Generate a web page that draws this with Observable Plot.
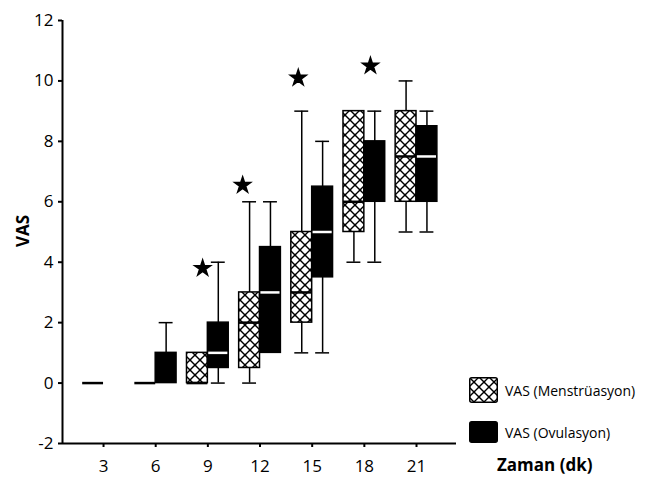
<!DOCTYPE html>
<html><head><meta charset="utf-8">
<script src="https://cdn.jsdelivr.net/npm/d3@7"></script>
<script src="https://cdn.jsdelivr.net/npm/@observablehq/plot@0.6"></script>
<style>
body{margin:0;background:#fff;font-family:"Open Sans",sans-serif;}
#wrap{position:relative;width:646px;height:477px;}
.leg{position:absolute;display:flex;align-items:center;font-size:14px;color:#000;white-space:nowrap;}
.leg svg{margin-right:7px;}
#xlab{position:absolute;left:497px;top:453px;font-size:17px;font-weight:bold;white-space:nowrap;}
</style></head><body><div id="wrap"></div>
<script>
const times = [3, 6, 9, 12, 15, 18, 21];
const yTicks = [-2, 0, 2, 4, 6, 8, 10, 12];
const seriesNames = ["VAS (Menstrüasyon)", "VAS (Ovulasyon)"];

// Menstrüasyon (hatched)
const mTimes = [3, 6, 9, 12, 15, 18, 21];
const mLo  = [0, 0, 0, 0,   1, 4, 5];
const mQ1  = [0, 0, 0, 0.5, 2, 5, 6];
const mMed = [0, 0, 0, 2,   3, 6, 7.5];
const mQ3  = [0, 0, 1, 3,   5, 9, 9];
const mHi  = [0, 0, 1, 6,   9, 9, 10];

// Ovulasyon (black)
const oTimes = [6, 9, 12, 15, 18, 21];
const oLo  = [0, 0,   1,   1,   4, 5];
const oQ1  = [0, 0.5, 1,   3.5, 6, 6];
const oMed = [0, 1,   3,   5,   6, 7.5];
const oQ3  = [1, 2,   4.5, 6.5, 8, 8.5];
const oHi  = [2, 4,   6,   8,   9, 9];

// significance stars
const starX = [8.7, 11.0, 14.2, 18.35];
const starY = [3.8, 6.55, 10.1, 10.5];

const menst = mTimes.map((t, i) => ({t, lo: mLo[i], q1: mQ1[i], med: mMed[i], q3: mQ3[i], hi: mHi[i]}));
const ovul = oTimes.map((t, i) => ({t, lo: oLo[i], q1: oQ1[i], med: oMed[i], q3: oQ3[i], hi: oHi[i]}));
const stars = starX.map((x, i) => ({x, y: starY[i]}));

const xDomain = [0.64, 23.3];
const yDomain = [-2, 12];
const bw = 1.2;   // box width in x units
const cw = 0.8;   // cap width

const mC = d => d.t - bw / 2;
const oC = d => d.t + bw / 2;

const plot = Plot.plot({
  width: 646, height: 477,
  marginLeft: 62, marginRight: 190, marginTop: 20, marginBottom: 34,
  style: {fontFamily: "'Open Sans', sans-serif", fontSize: "17px", color: "#000", background: "#fff"},
  x: {domain: xDomain},
  y: {domain: yDomain},
  marks: [
    Plot.axisY({ticks: yTicks, tickSize: 4, tickPadding: 5, strokeWidth: 2, label: null, tickFormat: d => d < 0 ? "-" + Math.abs(d) : String(d)}),
    Plot.axisX({ticks: times, tickSize: 4, tickPadding: 12, strokeWidth: 2, label: null}),
    Plot.ruleX([xDomain[0]], {stroke: "black", strokeWidth: 2}),
    Plot.ruleY([yDomain[0]], {stroke: "black", strokeWidth: 2}),
    // whiskers
    Plot.ruleX(menst.filter(d => d.hi > d.lo), {x: mC, y1: "lo", y2: "hi", stroke: "black", strokeWidth: 1.5}),
    Plot.ruleX(ovul.filter(d => d.hi > d.lo), {x: oC, y1: "lo", y2: "hi", stroke: "black", strokeWidth: 1.5}),
    Plot.ruleY(menst.filter(d => d.hi > d.q3), {y: "hi", x1: d => mC(d) - cw / 2, x2: d => mC(d) + cw / 2, stroke: "black", strokeWidth: 1.5}),
    Plot.ruleY(menst.filter(d => d.lo < d.q1), {y: "lo", x1: d => mC(d) - cw / 2, x2: d => mC(d) + cw / 2, stroke: "black", strokeWidth: 1.5}),
    Plot.ruleY(ovul.filter(d => d.hi > d.q3), {y: "hi", x1: d => oC(d) - cw / 2, x2: d => oC(d) + cw / 2, stroke: "black", strokeWidth: 1.5}),
    Plot.ruleY(ovul.filter(d => d.lo < d.q1), {y: "lo", x1: d => oC(d) - cw / 2, x2: d => oC(d) + cw / 2, stroke: "black", strokeWidth: 1.5}),
    // boxes
    Plot.rect(menst.filter(d => d.q3 > d.q1), {x1: d => d.t - bw, x2: d => d.t, y1: "q1", y2: "q3", fill: "url(#hatch)", stroke: "black", strokeWidth: 1.5}),
    Plot.rect(ovul.filter(d => d.q3 > d.q1), {x1: d => d.t, x2: d => d.t + bw, y1: "q1", y2: "q3", fill: "black", stroke: "black", strokeWidth: 1.5}),
    // medians
    Plot.ruleY(menst, {y: "med", x1: d => d.t - bw, x2: d => d.t, stroke: "black", strokeWidth: 2.5}),
    Plot.ruleY(ovul.filter(d => d.med > d.q1 && d.med < d.q3), {y: "med", x1: d => d.t + 0.05, x2: d => d.t + bw - 0.05, stroke: "white", strokeWidth: 2.5}),
    // stars
    Plot.dot(stars, {x: "x", y: "y", symbol: "star", r: 5, fill: "black", stroke: "black", strokeWidth: 1.5})
  ]
});

// hatch pattern
const ns = "http://www.w3.org/2000/svg";
function addPattern(svg) {
  const defs = document.createElementNS(ns, "defs");
  defs.innerHTML = '<pattern id="hatch" patternUnits="userSpaceOnUse" width="10" height="10">' +
    '<rect width="10" height="10" fill="white"/>' +
    '<path d="M0,0L10,10M10,0L0,10" stroke="black" stroke-width="1.4"/>' +
    '<circle cx="5" cy="5" r="1.2" fill="black"/><circle cx="0" cy="0" r="1.2" fill="black"/><circle cx="10" cy="0" r="1.2" fill="black"/><circle cx="0" cy="10" r="1.2" fill="black"/><circle cx="10" cy="10" r="1.2" fill="black"/>' +
    '</pattern>';
  svg.insertBefore(defs, svg.firstChild);
}
addPattern(plot);

const wrap = document.getElementById("wrap");
wrap.appendChild(plot);

// y label
const ylab = document.createElement("div");
ylab.textContent = "VAS";
ylab.style.cssText = "position:absolute;left:22px;top:231px;transform:translate(-50%,-50%) rotate(-90deg);font-size:17px;font-weight:bold;";
wrap.appendChild(ylab);

// legend
const legTops = [377, 421];
const legFills = ["url(#hatch)", "black"];
seriesNames.forEach((name, i) => {
  const d = document.createElement("div");
  d.className = "leg";
  d.style.left = "469px";
  d.style.top = legTops[i] + "px";
  d.innerHTML = `<svg width="29" height="${i === 0 ? 26 : 22}"><rect x="0.75" y="0.75" width="27.5" height="${i === 0 ? 24.5 : 20.5}" rx="2" fill="${legFills[i]}" stroke="black" stroke-width="1.5"/></svg><span>${name}</span>`;
  wrap.appendChild(d);
});

const xl = document.createElement("div");
xl.id = "xlab";
xl.textContent = "Zaman (dk)";
wrap.appendChild(xl);
</script>
</body></html>
